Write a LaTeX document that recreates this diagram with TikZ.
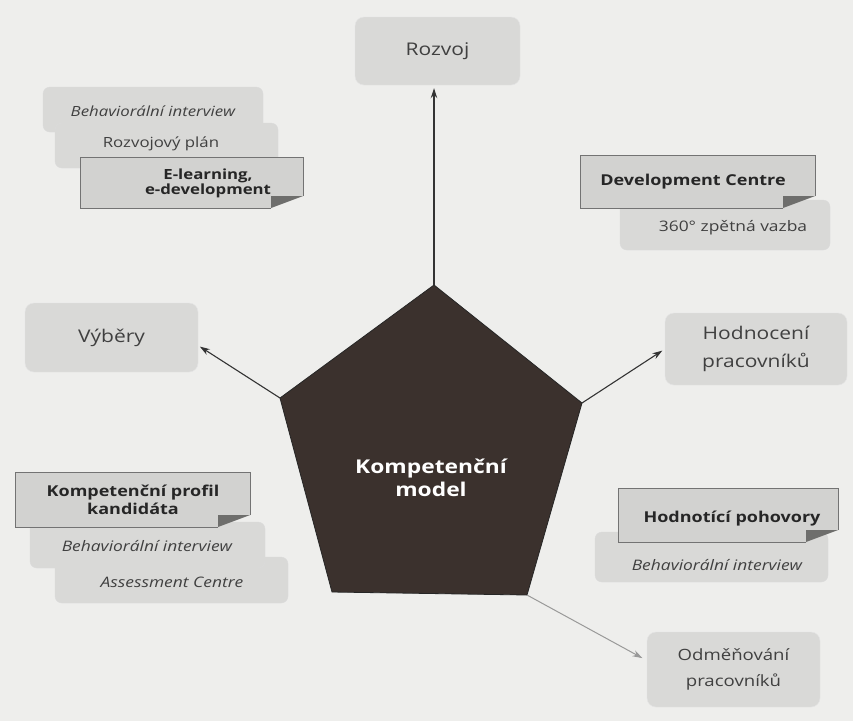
\documentclass[tikz,border=0pt]{standalone}
\usepackage{fontspec}
\setmainfont{Open Sans}[FakeStretch=1.2]
\usetikzlibrary{arrows.meta}
\definecolor{bg}{HTML}{EEEEEC}
\definecolor{boxc}{HTML}{D9D9D7}
\definecolor{notec}{HTML}{D2D2D0}
\definecolor{pent}{HTML}{3B312D}
\definecolor{txt}{HTML}{404040}
\definecolor{btxt}{HTML}{262626}
\definecolor{foldc}{HTML}{6E6E6C}
\newcommand\mynote[4]{%
  \fill[notec] (#1,#2) -- (#3,#2) -- (#3,#4-12) -- (#3-32,#4) -- (#1,#4) -- cycle;
  \draw[black!55, line width=0.9pt] (#3-32,#4) -- (#1,#4) -- (#1,#2) -- (#3,#2) -- (#3,#4-12);
  \fill[foldc] (#3-32,#4-12) -- (#3,#4-12) -- (#3-32,#4) -- cycle;
}
\begin{document}
\begin{tikzpicture}[x=1pt,y=-1pt,
  target/.style={rounded corners=9pt, fill=boxc, draw=black!10, text=txt, align=center, inner sep=0pt},
  rbox/.style={rounded corners=7pt, fill=boxc, draw=black!14},
  lbl/.style={text=txt, align=center, inner sep=0pt},
  blbl/.style={text=btxt, align=center, inner sep=0pt},
  arr/.style={-{Stealth[length=10pt,width=6.5pt]}, line width=1.1pt, draw=black!80},
]
\useasboundingbox (0,0) rectangle (853,721);
\fill[bg] (0,0) rectangle (853,721);

% target boxes
\node[target, minimum width=165pt, minimum height=68pt, font=\fontsize{17.5}{21}\selectfont] (rozvoj) at (437.5,51) {Rozvoj};
\node[target, minimum width=173pt, minimum height=69pt, font=\fontsize{17.5}{21}\selectfont] (vybery) at (111.5,337.5) {Výběry};
\node[target, minimum width=182pt, minimum height=72pt, font=\fontsize{17.5}{28}\selectfont] (hodn) at (756,349) {Hodnocení\\pracovníků};
\node[target, minimum width=173pt, minimum height=75pt, font=\fontsize{15.5}{26}\selectfont] (odm) at (733.5,669.5) {Odměňování\\pracovníků};

% top-left stack
\draw[rbox] (43,87) rectangle (263,132);
\node[lbl, font=\itshape\fontsize{14}{17}\selectfont] (tla) at (153,111) {Behaviorální interview};
\draw[rbox] (55,123) rectangle (278,168);
\node[lbl, font=\fontsize{14}{17}\selectfont] (tlb) at (161,144) {Rozvojový plán};
\mynote{80}{157}{303}{208}
\node[blbl, font=\bfseries\fontsize{14}{15}\selectfont] (tlc) at (208,183) {E-learning,\\e-development};

% top-right stack
\draw[rbox] (620,200) rectangle (830,250);
\node[lbl, font=\fontsize{14.5}{17}\selectfont] (tra) at (733,228) {360° zpětná vazba};
\mynote{580}{155}{815}{208}
\node[blbl, font=\bfseries\fontsize{15}{18}\selectfont] (trb) at (693,182) {Development Centre};

% bottom-left stack
\draw[rbox] (55,557) rectangle (288,603);
\node[lbl, font=\itshape\fontsize{14.5}{17}\selectfont] (bla) at (172,582) {Assessment Centre};
\draw[rbox] (30,522) rectangle (265,568);
\node[lbl, font=\itshape\fontsize{14.5}{17}\selectfont] (blb) at (147,546) {Behaviorální interview};
\mynote{15}{472}{250}{527}
\node[blbl, font=\bfseries\fontsize{15}{18}\selectfont] (blc) at (133,500) {Kompetenční profil\\kandidáta};

% bottom-right stack
\draw[rbox] (595,532) rectangle (828,582);
\node[lbl, font=\itshape\fontsize{14.5}{17}\selectfont] (bra) at (717,565) {Behaviorální interview};
\mynote{618}{488}{838}{542}
\node[blbl, font=\bfseries\fontsize{15}{18}\selectfont] (brb) at (732,519) {Hodnotící pohovory};

% pentagon
\coordinate (pt) at (434,285);
\coordinate (pul) at (280,398);
\coordinate (pur) at (582,403);
\coordinate (pll) at (332,592);
\coordinate (plr) at (527,595);
\fill[pent, draw=black!85, line width=0.8pt] (pt) -- (pur) -- (plr) -- (pll) -- (pul) -- cycle;
\node[text=white, align=center, inner sep=0pt, font=\bfseries\fontsize{19}{23}\selectfont] (km) at (431,478) {Kompetenční\\model};

% connectors
\draw[arr, shorten >=3pt] (pt) -- (pt |- rozvoj.south);
\draw[arr, shorten >=2pt] (pul) -- ([yshift=-8pt]vybery.east);
\draw[arr, shorten >=3pt] (pur) -- (hodn.west);
\draw[arr, draw=black!40, line width=1pt, shorten >=5pt] (plr) -- ([yshift=9pt]odm.west);
\end{tikzpicture}
\end{document}
